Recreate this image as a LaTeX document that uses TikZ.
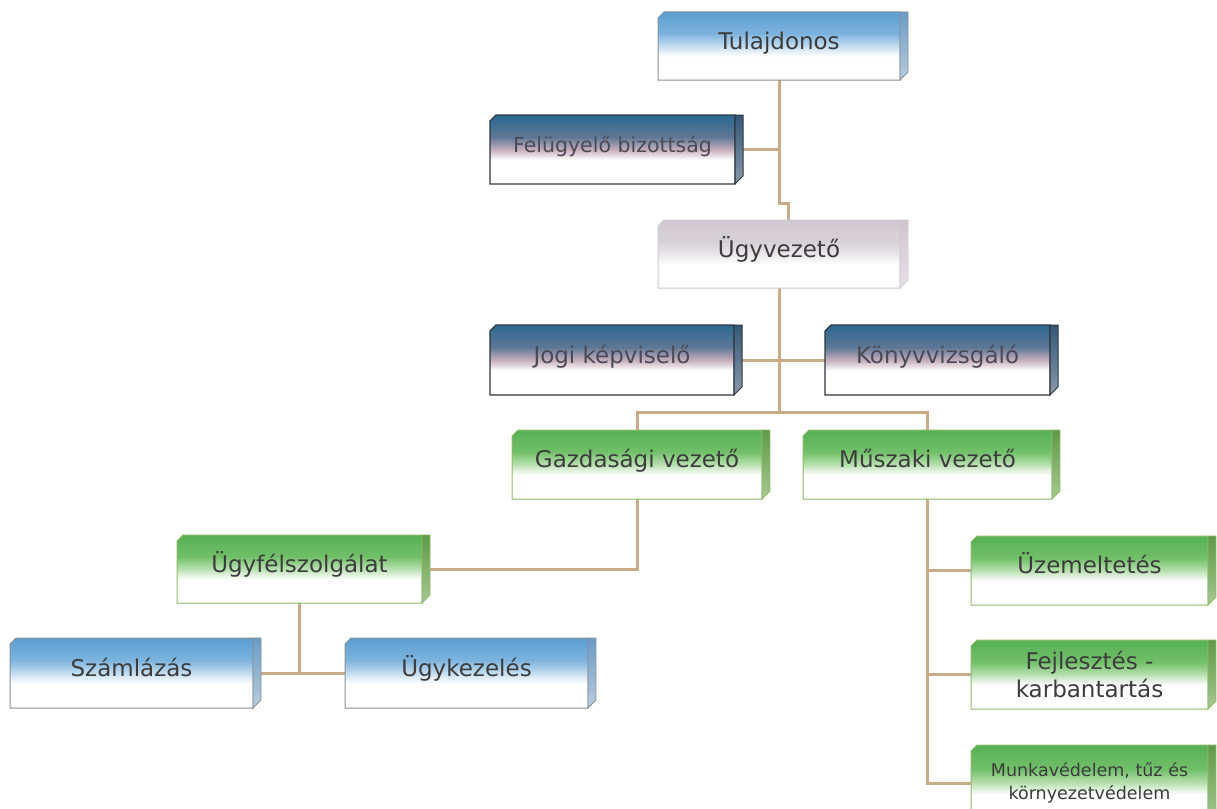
\documentclass[tikz,border=0pt]{standalone}
\usepackage{fontspec}
\setmainfont{DejaVu Sans}
\usetikzlibrary{calc}
\definecolor{linkc}{HTML}{C9AB85}
\definecolor{txt}{HTML}{3C3C3C}
\definecolor{navytxt}{HTML}{4A4A55}
\definecolor{blueA}{HTML}{5A9ED2}
\definecolor{blueB}{HTML}{7DB4DE}
\definecolor{blueC}{HTML}{C4DDF0}
\definecolor{blueBorder}{HTML}{8A8E94}
\definecolor{blueSideT}{HTML}{6A9CC8}
\definecolor{blueSideB}{HTML}{B8CCDC}
\definecolor{navyA}{HTML}{2A6890}
\definecolor{navyB}{HTML}{5F7896}
\definecolor{navyC}{HTML}{C6AEBE}
\definecolor{navyBorder}{HTML}{2E3640}
\definecolor{navySideT}{HTML}{345878}
\definecolor{navySideB}{HTML}{8A98A8}
\definecolor{grayA}{HTML}{D2C8D2}
\definecolor{grayB}{HTML}{D8D0D8}
\definecolor{grayC}{HTML}{EAE6EA}
\definecolor{grayBorder}{HTML}{D0C8D0}
\definecolor{graySideT}{HTML}{CFC4CF}
\definecolor{graySideB}{HTML}{E8E2E8}
\definecolor{greenA}{HTML}{56B054}
\definecolor{greenB}{HTML}{72C06A}
\definecolor{greenC}{HTML}{B8E0B0}
\definecolor{greenBorder}{HTML}{8DBB6A}
\definecolor{greenSideT}{HTML}{5E9A48}
\definecolor{greenSideB}{HTML}{A8C890}
\pgfdeclarelayer{back}
\pgfdeclarelayer{conn}
\pgfdeclarelayer{faces}
\pgfsetlayers{back,conn,faces,main}
\tikzset{
  x=1pt, y=-1pt,
  link/.style={draw=linkc, line width=3pt},
  orgbox/.style={inner sep=0pt, outer sep=0pt, text=txt, font=\fontsize{23}{28}\selectfont},
  oneline/.style={text height=16pt, text depth=10pt},
  blueborder/.style={draw=blueBorder, line width=1pt},
  blueside/.style={top color=blueSideT, bottom color=blueSideB, draw=blueBorder, line width=0.8pt},
  navyborder/.style={draw=navyBorder, line width=1.2pt},
  navyside/.style={top color=navySideT, bottom color=navySideB, draw=navyBorder, line width=1pt},
  grayborder/.style={draw=grayBorder, line width=1pt},
  grayside/.style={top color=graySideT, bottom color=graySideB, draw=grayBorder, line width=0.8pt},
  greenborder/.style={draw=greenBorder, line width=1pt},
  greenside/.style={top color=greenSideT, bottom color=greenSideB, draw=greenBorder, line width=0.8pt}
}
% #1 node, #2 kind; colour A at top, B at 0.32, C at 0.5, white from 0.65
\newcommand\deco[2]{%
  \begin{pgfonlayer}{faces}
    \begin{scope}
      \clip (#1.south west) -- ($(#1.north west)+(0,6)$) -- ($(#1.north west)+(6,0)$) -- (#1.north east) -- (#1.south east) -- cycle;
      \fill[white] (#1.north west) rectangle (#1.south east);
      \shade[top color=#2A, bottom color=#2B] (#1.north west) rectangle ($(#1.north east)!0.32!(#1.south east)$);
      \shade[top color=#2B, bottom color=#2C] ($(#1.north west)!0.32!(#1.south west)$) rectangle ($(#1.north east)!0.5!(#1.south east)$);
      \shade[top color=#2C, bottom color=white] ($(#1.north west)!0.5!(#1.south west)$) rectangle ($(#1.north east)!0.65!(#1.south east)$);
    \end{scope}
    \path[#2border] (#1.south west) -- ($(#1.north west)+(0,6)$) -- ($(#1.north west)+(6,0)$) -- (#1.north east) -- (#1.south east) -- cycle;
    \path[#2side] (#1.north east) -- ($(#1.north east)+(8,0)$) -- ($(#1.south east)+(8,-8)$) -- (#1.south east) -- cycle;
  \end{pgfonlayer}}
\begin{document}
\begin{tikzpicture}
\useasboundingbox (0,0) rectangle (1217,808);
\begin{pgfonlayer}{back}
\fill[white] (0,0) rectangle (1217,808);
\end{pgfonlayer}
% nodes
\node[orgbox, oneline, minimum width=242pt, minimum height=68pt] (tul) at (779,46) {Tulajdonos};
\node[orgbox, oneline, minimum width=245pt, minimum height=69pt, font=\fontsize{20.5}{24}\selectfont, text=navytxt] (fel) at (612.5,149.5) {Felügyelő bizottság};
\node[orgbox, oneline, minimum width=242pt, minimum height=68pt] (ugyv) at (779,254) {Ügyvezető};
\node[orgbox, oneline, minimum width=244pt, minimum height=70pt, text=navytxt] (jogi) at (612,360) {Jogi képviselő};
\node[orgbox, oneline, minimum width=225pt, minimum height=70pt, text=navytxt] (konyv) at (937.5,360) {Könyvvizsgáló};
\node[orgbox, oneline, minimum width=250pt, minimum height=69pt] (gazd) at (637,464.5) {Gazdasági vezető};
\node[orgbox, oneline, minimum width=249pt, minimum height=69pt] (musz) at (927.5,464.5) {Műszaki vezető};
\node[orgbox, oneline, minimum width=245pt, minimum height=68pt] (ugyf) at (299.5,569) {Ügyfélszolgálat};
\node[orgbox, oneline, minimum width=243pt, minimum height=70pt] (szaml) at (131.5,673) {Számlázás};
\node[orgbox, oneline, minimum width=243pt, minimum height=70pt] (ugyk) at (466.5,673) {Ügykezelés};
\node[orgbox, oneline, minimum width=237pt, minimum height=69pt] (uzem) at (1089.5,570.5) {Üzemeltetés};
\node[orgbox, align=center, minimum width=237pt, minimum height=69pt] (fejl) at (1089.5,674.5) {Fejlesztés -\\karbantartás};
\node[orgbox, align=center, minimum width=237pt, minimum height=76pt, font=\fontsize{17.5}{23}\selectfont] (munka) at (1089.5,783) {Munkavédelem, tűz és\\környezetvédelem};
% box faces
\deco{tul}{blue}
\deco{fel}{navy}
\deco{ugyv}{gray}
\deco{jogi}{navy}
\deco{konyv}{navy}
\deco{gazd}{green}
\deco{musz}{green}
\deco{ugyf}{green}
\deco{szaml}{blue}
\deco{ugyk}{blue}
\deco{uzem}{green}
\deco{fejl}{green}
\deco{munka}{green}
% connectors
\coordinate (j1) at (788,203);
\coordinate (hb) at (779,412);
\begin{pgfonlayer}{conn}
\draw[link] (tul.south) -- (tul.south |- j1) -- (j1) -- (j1 |- ugyv.north);
\draw[link] (fel.east) -- (fel.east -| tul.south);
\draw[link] (ugyv.south) -- (hb);
\draw[link] (jogi.east) -- (konyv.west);
\draw[link] (gazd.north) |- (hb) -| (musz.north);
\draw[link] (gazd.south) |- (ugyf.east);
\draw[link] (ugyf.south) -- (ugyf.south |- szaml.east);
\draw[link] (szaml.east) -- (ugyk.west);
\draw[link] (musz.south) |- (munka.west);
\draw[link] (musz.south |- uzem.west) -- (uzem.west);
\draw[link] (musz.south |- fejl.west) -- (fejl.west);
\end{pgfonlayer}
\end{tikzpicture}
\end{document}
